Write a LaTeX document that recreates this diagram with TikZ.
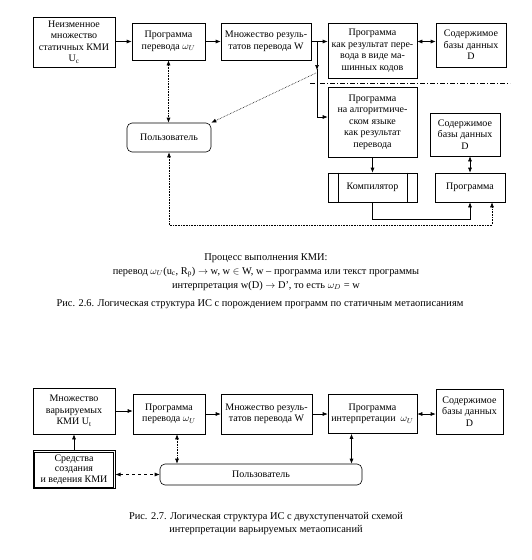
\documentclass[tikz,border=0pt]{standalone}
\usepackage{fontspec}
\setmainfont{Liberation Serif}
\usetikzlibrary{arrows.meta}

\begin{document}
\begin{tikzpicture}[x = 1pt, y = -1pt,
    box/.style = {draw, line width = 0.6pt, align = center, inner sep = 1pt,
      font = \fontsize{10}{11.5}\selectfont},
    arr/.style = {-{Latex[length = 5pt, width = 4pt]}, line width = 0.6pt},
    darr/.style = {{Latex[length = 5pt, width = 4pt]}-{Latex[length = 5pt, width = 4pt]},
      line width = 0.6pt},
    dots/.style = {densely dotted, line width = 0.5pt},
    txt/.style = {align = center, font = \fontsize{10.4}{14}\selectfont}]

    \useasboundingbox (0,0) rectangle (532,560);

    % Рис. 2.6
    \node [box, minimum width = 82pt, minimum height = 50pt] (stat) at (74,42)
      {Неизменное\\множество\\статичных КМИ\\U\textsubscript{c}};
    \node [box, minimum width = 73pt, minimum height = 37pt] (trans) at (168.5,41.5)
      {Программа\\перевода $\omega_U$};
    \node [box, minimum width = 90pt, minimum height = 37pt] (res) at (266,41.5)
      {Множество резуль-\\татов перевода W};
    \node [box, minimum width = 89pt, minimum height = 55pt] (mach) at (372.5,50.5)
      {Программа\\как результат пере-\\вода в виде ма-\\шинных кодов};
    \node [box, minimum width = 70pt, minimum height = 44pt] (db) at (471,45)
      {Содержимое\\базы данных\\D};
    \node [box, minimum width = 89pt, minimum height = 70pt] (alg) at (372.5,122)
      {Программа\\на алгоритмиче-\\ском языке\\как результат\\перевода};
    \node [box, minimum width = 70pt, minimum height = 43pt] (dbb) at (465,134.5)
      {Содержимое\\базы данных\\D};
    \node [box, minimum width = 89pt, minimum height = 29pt] (comp) at (372.5,187.5)
      {Компилятор};
    \node [box, minimum width = 70pt, minimum height = 29pt] (prog) at (470,187.5)
      {Программа};
    \node [box, rounded corners = 5pt, minimum width = 84pt, minimum height = 29pt]
      (user) at (169,137.5) {Пользователь};

    \draw [line width = 0.6pt] ([xshift = 11pt]comp.north west) -- ([xshift = 11pt]comp.south west);
    \draw [line width = 0.6pt] ([xshift = -10pt]comp.north east) -- ([xshift = -10pt]comp.south east);

    \draw [line width = 0.4pt, dash pattern = on 5pt off 2pt on 1pt off 2pt] (310,83) -- (510,83);

    \coordinate (bus) at (317,41.5);
    \coordinate (busa) at (317,117);
    \draw [arr] (stat.east |- trans.west) -- (trans.west);
    \draw [arr] (trans) -- (res);
    \draw [line width = 0.6pt] (res.east) -- (bus);
    \draw [arr] (bus) -- (bus -| mach.west);
    \draw [arr] (bus) -- (317,70);
    \draw [line width = 0.6pt] (317,69) -- (busa);
    \draw [arr] (busa) -- (busa -| alg.west);
    \draw [darr] (mach.east |- bus) -- (db.west |- bus);
    \draw [dots, darr] (trans.south) -- (trans.south |- user.north);
    \draw [dots, arr] (316,73) -- (user.north east);
    \coordinate (low) at (492,225);
    \draw [dots, darr] (user.south) |- (low) -- (low |- prog.south);
    \draw [arr] (alg.south) -- (comp.north);
    \draw [arr] (comp.south) -- ++(0,17) -| (prog.south);
    \draw [darr] (prog.north |- dbb.south) -- (prog.north);

    \node [txt] (proc) at (266,272)
      {Процесс выполнения КМИ:\\
       перевод $\omega_U$(u\textsubscript{c}, R\textsubscript{p}) $\rightarrow$ w, w $\in$ W, w – программа или текст программы\\
       интерпретация w(D) $\rightarrow$ D', то есть $\omega_D$ = w};
    \node [txt] (cap1) at (260,304)
      {Рис. 2.6. Логическая структура ИС с порождением программ по статичным метаописаниям};

    % Рис. 2.7
    \node [box, minimum width = 82pt, minimum height = 46pt] (var) at (74,411)
      {Множество\\варьируемых\\КМИ U\textsubscript{t}};
    \node [box, minimum width = 72pt, minimum height = 40pt] (transb) at (169,414)
      {Программа\\перевода $\omega_U$};
    \node [box, minimum width = 91pt, minimum height = 40pt] (resb) at (266.5,414)
      {Множество резуль-\\татов перевода W};
    \node [box, minimum width = 89pt, minimum height = 39pt] (intp) at (372.5,414)
      {Программа\\интерпретации\ \ $\omega_U$};
    \node [box, minimum width = 67pt, minimum height = 45pt] (dbc) at (469.5,411.5)
      {Содержимое\\базы данных\\D};
    \node [box, line width = 1pt, minimum width = 82pt, minimum height = 38pt,
      font = \fontsize{10}{10.5}\selectfont]
      (tools) at (74,469.5) {Средства\\создания\\и ведения КМИ};
    \draw [line width = 0.5pt] ([xshift = 2.2pt, yshift = -2.2pt]tools.north west)
      rectangle ([xshift = -2.2pt, yshift = 2.2pt]tools.south east);
    \node [box, rounded corners = 5pt, minimum width = 202pt, minimum height = 21pt]
      (userb) at (261,474.5) {Пользователь};

    \draw [arr] (var.east) -- (var.east -| transb.west);
    \draw [arr] (transb) -- (resb);
    \draw [arr] (resb) -- (intp);
    \draw [darr] (intp.east) -- (intp.east -| dbc.west);
    \draw [arr] (tools.north) -- (var.south);
    \draw [dots, darr] ([xshift = 8pt]transb.south) -- ([xshift = 8pt]transb.south |- userb.north);
    \draw [darr] ([xshift = -21pt]intp.south) -- ([xshift = -21pt]intp.south |- userb.north);
    \draw [dashed, darr] (tools.east |- userb.west) -- (userb.west);

    \node [txt, font = \fontsize{10.4}{13}\selectfont] (cap2) at (266,523.5)
      {Рис. 2.7. Логическая структура ИС с двухступенчатой схемой\\
       интерпретации варьируемых метаописаний};
\end{tikzpicture}
\end{document}
